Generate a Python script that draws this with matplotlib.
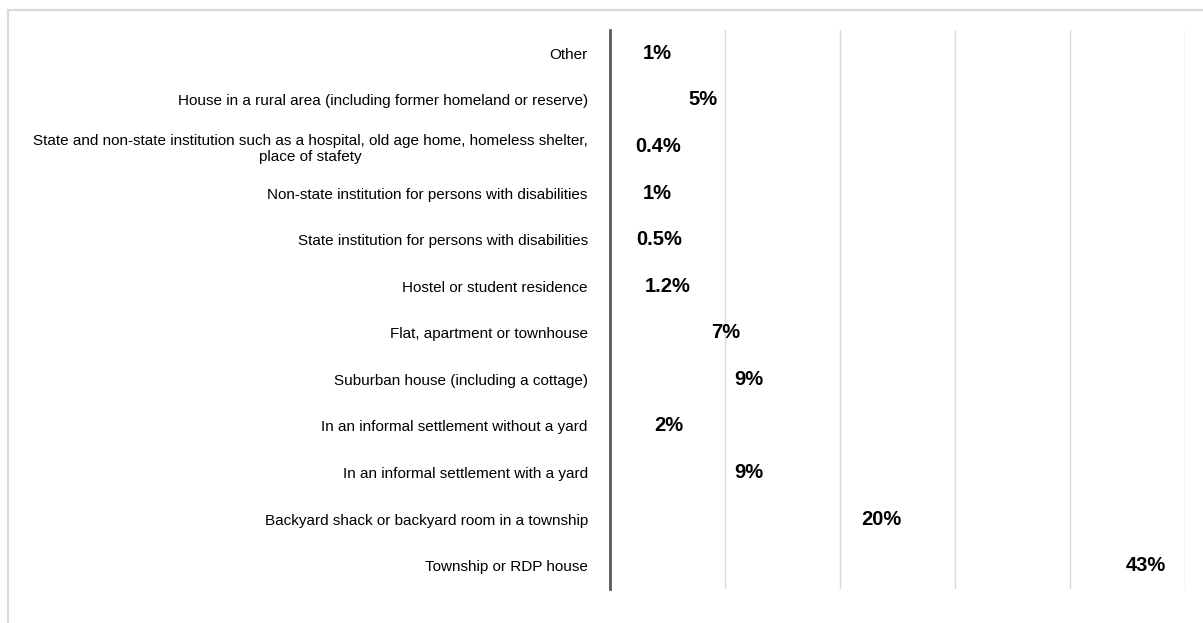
import numpy as np
import matplotlib.pyplot as plt
from matplotlib.lines import Line2D

categories = [
    "Other",
    "House in a rural area (including former homeland or reserve)",
    "State and non-state institution such as a hospital, old age home, homeless shelter,\nplace of stafety",
    "Non-state institution for persons with disabilities",
    "State institution for persons with disabilities",
    "Hostel or student residence",
    "Flat, apartment or townhouse",
    "Suburban house (including a cottage)",
    "In an informal settlement without a yard",
    "In an informal settlement with a yard",
    "Backyard shack or backyard room in a township",
    "Township or RDP house",
]
values = [1, 5, 0.4, 1, 0.5, 1.2, 7, 9, 2, 9, 20, 43]
value_labels = ["1%", "5%", "0.4%", "1%", "0.5%", "1.2%", "7%", "9%", "2%", "9%", "20%", "43%"]

plt.rcParams["font.family"] = ["Liberation Sans", "DejaVu Sans"]

fig = plt.figure(figsize=(12.03, 6.23), dpi=100)
W, H = 1203, 623

# light chart-area border: top and left edges only, the rest runs off the image
fig.add_artist(Line2D([8 / W, 1], [1 - 10 / H, 1 - 10 / H], transform=fig.transFigure,
                      color="#d9d9d9", linewidth=1.5))
fig.add_artist(Line2D([8 / W, 8 / W], [0, 1 - 10 / H], transform=fig.transFigure,
                      color="#d9d9d9", linewidth=1.5))

ax = fig.add_axes([610 / W, 1 - 589 / H, (1185 - 610) / W, (589 - 30) / H])
y = np.arange(len(categories))
ax.barh(y, values, height=0.6, color="none", edgecolor="none")
ax.set_xlim(0, 50)
ax.set_ylim(len(categories) - 0.5, -0.5)

for v in [10, 20, 30, 40, 50]:
    ax.axvline(v, color="#d9d9d9", linewidth=1, zorder=0)

ax.set_yticks(y)
ax.set_yticklabels(categories, fontsize=11, color="#000000")
ax.tick_params(axis="y", length=0, pad=16)
ax.set_xticks([])
for s in ["top", "right", "bottom"]:
    ax.spines[s].set_visible(False)
ax.spines["left"].set_color("#595959")
ax.spines["left"].set_linewidth(2)

for t in ax.get_yticklabels():
    t.set_multialignment("center")

for yi, v, lab in zip(y, values, value_labels):
    ax.annotate(lab, (v, yi), xytext=(15, 0), textcoords="offset points",
                ha="left", va="center", fontsize=14.5, fontweight="bold", color="#000000")

fig.savefig("out.png", dpi=100, facecolor="white")
